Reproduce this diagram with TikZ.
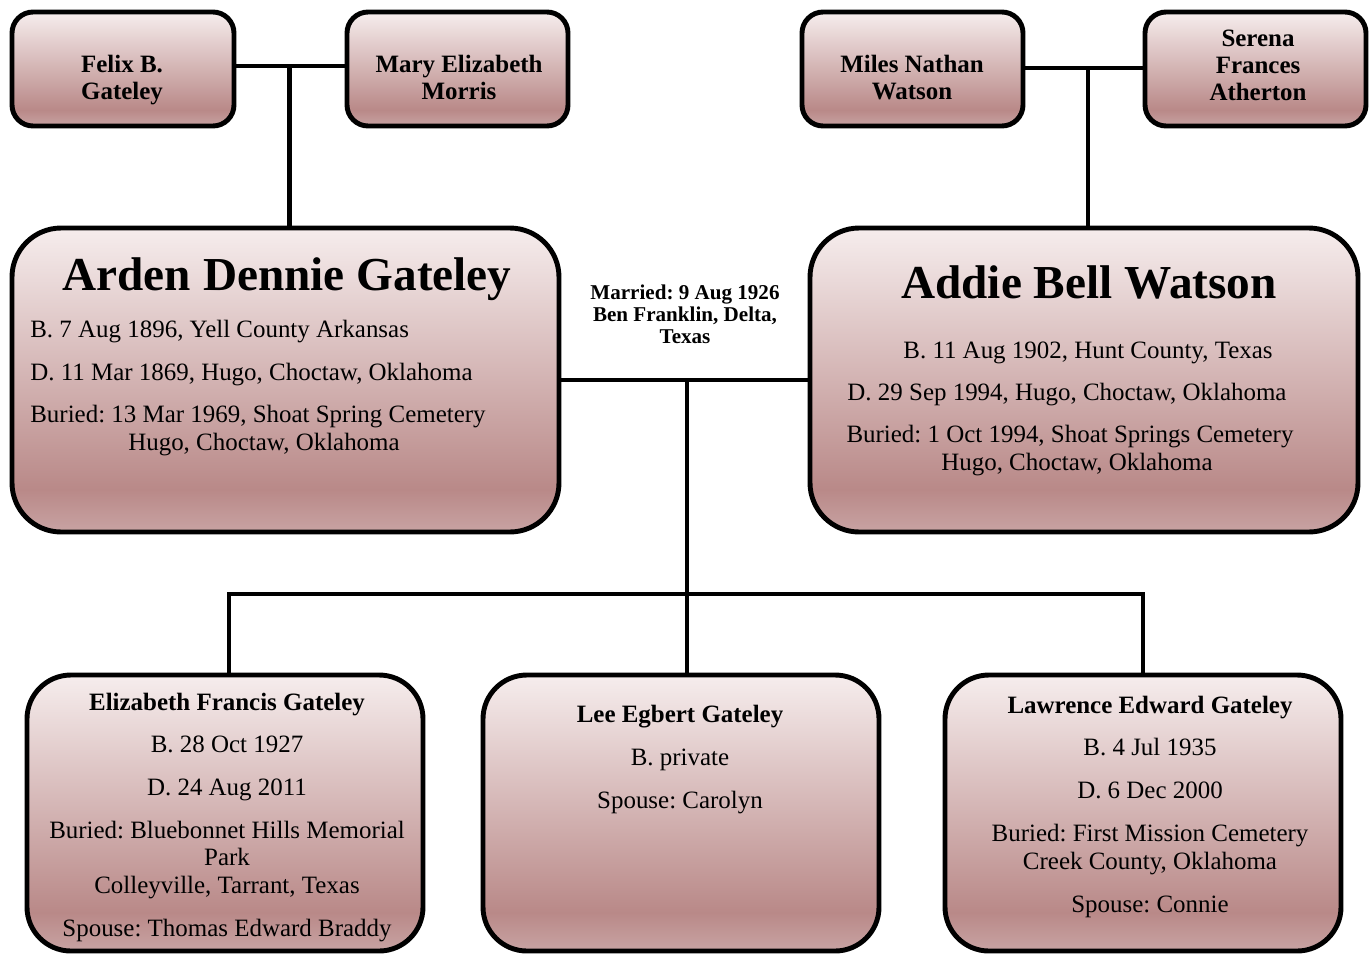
\documentclass[tikz,border=0pt]{standalone}
\usepackage{fontspec}
\setmainfont{Liberation Serif}
\usetikzlibrary{fit}
\frenchspacing

\definecolor{rosetop}{RGB}{246,237,237}
\definecolor{rosedeep}{RGB}{185,137,136}
\definecolor{rosebot}{RGB}{200,163,163}
\pgfdeclareverticalshading{rosebox}{100bp}{color(0bp)=(rosebot); color(25bp)=(rosebot); color(32bp)=(rosedeep); color(75bp)=(rosetop); color(100bp)=(rosetop)}

\begin{document}
\begin{tikzpicture}[x=0.02cm,y=-0.02cm,
  box/.style={draw=black,line width=2.8pt,shading=rosebox,inner sep=0pt},
  smallbox/.style={box,rounded corners=12pt},
  bigbox/.style={box,rounded corners=28pt},
  kidbox/.style={box,rounded corners=25pt},
  link/.style={draw=black,line width=2.3pt},
  nm/.style={font=\fontsize{14.2}{15.3}\selectfont\bfseries,align=center,inner sep=0pt,anchor=base},
  bigname/.style={font=\fontsize{26.9}{30}\selectfont\bfseries,inner sep=0pt,anchor=base},
  txt/.style={font=\fontsize{14.2}{15.6}\selectfont,align=center,inner sep=0pt,anchor=base},
  wed/.style={font=\fontsize{12}{12.5}\selectfont\bfseries,align=center,inner sep=0pt,anchor=base}]
\useasboundingbox (0,0) rectangle (1372,957);
\node[smallbox,fit={(12,12) (234,126)}] (felix) {};
\node[smallbox,fit={(347,12) (568,126)}] (mary) {};
\node[smallbox,fit={(802,12) (1023,126)}] (miles) {};
\node[smallbox,fit={(1145,12) (1366,126)}] (serena) {};
\node[bigbox,fit={(12,228) (559,532)}] (arden) {};
\node[bigbox,fit={(810,228) (1358,532)}] (addie) {};
\node[kidbox,fit={(27,675) (423,951)}] (eliz) {};
\node[kidbox,fit={(483,675) (879,951)}] (lee) {};
\node[kidbox,fit={(945,675) (1341,951)}] (lawr) {};
\coordinate (bus) at (0,594);
\draw[link] ([yshift=0.06cm]felix.east) -- ([yshift=0.06cm]mary.west);
\draw[link] ([xshift=0.08cm]arden.north) -- ([xshift=0.08cm,yshift=0.06cm]arden.north |- felix.east);
\draw[link] ([yshift=0.02cm]miles.east) -- ([yshift=0.02cm]serena.west);
\draw[link] ([xshift=0.08cm]addie.north) -- ([xshift=0.08cm,yshift=0.02cm]addie.north |- miles.east);
\draw[link] (arden.east) -- (addie.west);
\draw[link] ([xshift=0.12cm]lee.north) -- ([xshift=0.12cm]lee.north |- arden.east);
\draw[link] ([xshift=0.08cm]eliz.north) -- ([xshift=0.08cm]eliz.north |- bus) -| (lawr.north);
\node[nm] (felixtxt) at (122,99) {Felix B.\\Gateley};
\node[nm] (marytxt) at (459,99) {Mary Elizabeth\\Morris};
\node[nm] (milestxt) at (912,99) {Miles Nathan\\Watson};
\node[nm] (serenatxt) at (1258,100) {Serena\\Frances\\Atherton};
\node[bigname] (ardentitle) at (287,290) {Arden Dennie Gateley};
\node[txt,anchor=base west] (ardenb) at (30,337) {B. 7 Aug 1896, Yell County Arkansas};
\node[txt,anchor=base west] (ardend) at (30,380) {D. 11 Mar 1869, Hugo, Choctaw, Oklahoma};
\node[txt,anchor=base west] (ardenbur) at (30,422) {Buried: 13 Mar 1969, Shoat Spring Cemetery};
\node[txt] (ardenplace) at (264,450) {Hugo, Choctaw, Oklahoma};
\node[bigname] (addietitle) at (1089,298) {Addie Bell Watson};
\node[txt] (addieb) at (1088,358) {B. 11 Aug 1902, Hunt County, Texas};
\node[txt] (addied) at (1067,400) {D. 29 Sep 1994, Hugo, Choctaw, Oklahoma};
\node[txt] (addiebur) at (1070,442) {Buried: 1 Oct 1994, Shoat Springs Cemetery};
\node[txt] (addieplace) at (1077,470) {Hugo, Choctaw, Oklahoma};
\node[wed] (married) at (685,343) {Married: 9 Aug 1926\\Ben Franklin, Delta,\\Texas};
\node[nm] (elizname) at (227,710) {Elizabeth Francis Gateley};
\node[txt] (elizinfo) at (227,936) {B. 28 Oct 1927\\[8.8pt] D. 24 Aug 2011\\[8.8pt] Buried: Bluebonnet Hills Memorial\\Park\\Colleyville, Tarrant, Texas\\[8.8pt] Spouse: Thomas Edward Braddy};
\node[nm] (leename) at (680,722) {Lee Egbert Gateley};
\node[txt] (leeinfo) at (680,808) {B. private\\[8.8pt] Spouse: Carolyn};
\node[nm] (lawrname) at (1150,713) {Lawrence Edward Gateley};
\node[txt] (lawrinfo) at (1150,912) {B. 4 Jul 1935\\[8.8pt] D. 6 Dec 2000\\[8.8pt] Buried: First Mission Cemetery\\Creek County, Oklahoma\\[8.8pt] Spouse: Connie};
\end{tikzpicture}
\end{document}
